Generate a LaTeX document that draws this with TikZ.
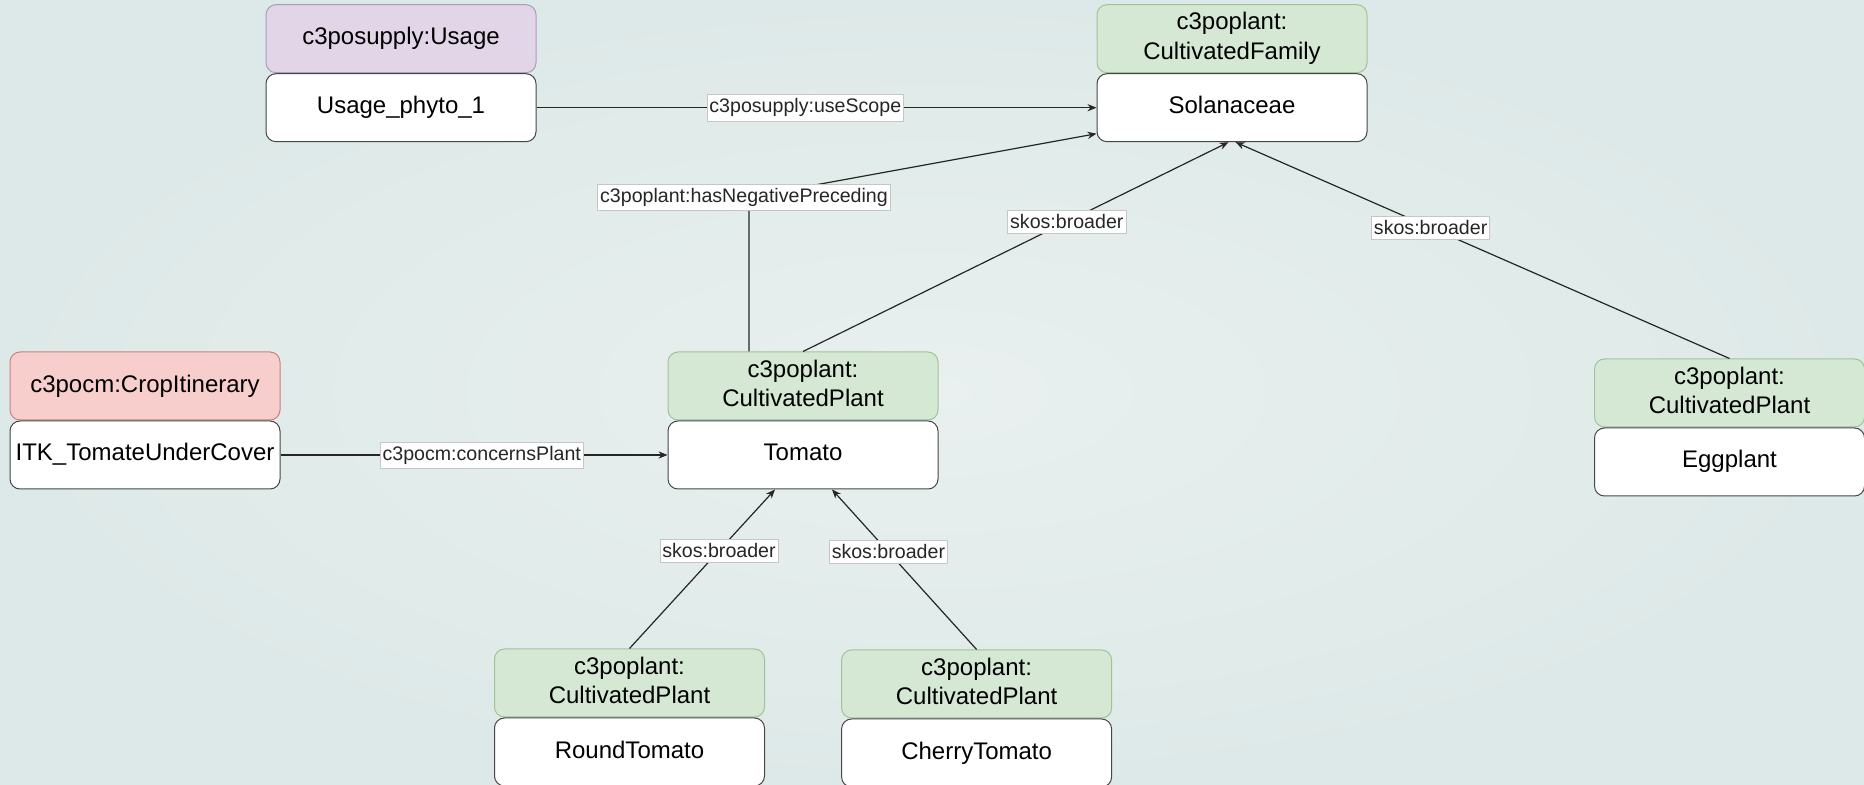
\documentclass[tikz,border=0pt]{standalone}
\usepackage{fontspec}
\setmainfont{Liberation Sans}
\usepackage{xcolor}
\usetikzlibrary{arrows.meta,positioning}
\definecolor{bgin}{RGB}{233,240,239}
\definecolor{bgout}{RGB}{221,233,232}
\definecolor{greenF}{RGB}{213,232,212}
\definecolor{greenD}{RGB}{160,195,150}
\definecolor{redF}{RGB}{248,206,204}
\definecolor{redD}{RGB}{200,130,128}
\definecolor{purpleF}{RGB}{225,213,231}
\definecolor{purpleD}{RGB}{175,155,190}
\definecolor{instD}{RGB}{70,70,70}

\begin{document}
\begin{tikzpicture}[x=0.5pt, y=-0.5pt, node distance=0pt, >={Stealth[length=4.5pt,width=3.6pt]}]
\tikzstyle{box}=[draw, rounded corners=5pt, minimum width=135pt, minimum height=34pt, inner sep=2pt, align=center, line width=0.5pt, font=\fontsize{12}{13.5}\selectfont]
\tikzstyle{plantcls}=[box, fill=greenF, draw=greenD, inner ysep=1pt, execute at end node={\rule[-2.9pt]{0pt}{2.9pt}}]
\tikzstyle{inst}=[box, fill=white, draw=instD, text height=8.8pt, text depth=2.8pt]
\tikzstyle{lbl}=[fill=white, draw=gray!45, line width=0.3pt, inner xsep=1.2pt, inner ysep=2pt, font=\fontsize{9.8}{11}\selectfont]
\tikzstyle{rel}=[->, line width=0.6pt, black!85]
\shade[inner color=bgin, outer color=bgout] (0,0) rectangle (1864,785);
\useasboundingbox (0,0) rectangle (1864,785);
\node[box, fill=purpleF, draw=purpleD] (usageC) at (401,38.7) {c3posupply:Usage};
\node[inst, below=of usageC] (usage) {Usage\_phyto\_1};
\node[plantcls] (famC) at (1232,38.7) {c3poplant:\\[1.2pt]CultivatedFamily};
\node[inst, below=of famC] (sol) {Solanaceae};
\node[box, fill=redF, draw=redD] (cropC) at (145,386) {c3pocm:CropItinerary};
\node[inst, below=of cropC] (itk) {ITK\_TomateUnderCover};
\node[plantcls] (tomC) at (803,386) {c3poplant:\\[1.2pt]CultivatedPlant};
\node[inst, below=of tomC] (tom) {Tomato};
\node[plantcls] (eggC) at (1729.5,393) {c3poplant:\\[1.2pt]CultivatedPlant};
\node[inst, below=of eggC] (egg) {Eggplant};
\node[plantcls] (roundC) at (629.5,683) {c3poplant:\\[1.2pt]CultivatedPlant};
\node[inst, below=of roundC] (round) {RoundTomato};
\node[plantcls] (cherryC) at (976.6,684) {c3poplant:\\[1.2pt]CultivatedPlant};
\node[inst, below=of cherryC] (cherry) {CherryTomato};
\coordinate (negbend) at (749,197);
\draw[rel] (usage) -- node[lbl, pos=0.48]{c3posupply:useScope} (sol);
\draw[rel] ([xshift=-27pt]tomC.north) -- (negbend) node[lbl, xshift=-2.5pt]{c3poplant:hasNegativePreceding} -- ([yshift=-13pt]sol.west);
\draw[rel] (tomC.north) -- node[lbl, pos=0.62]{skos:broader} ([xshift=-1.75pt]sol.south);
\draw[rel] (eggC.north) -- node[lbl, pos=0.605]{skos:broader} ([xshift=1.75pt]sol.south);
\draw[rel] (itk) -- node[lbl, pos=0.52]{c3pocm:concernsPlant} (tom);
\draw[rel] (roundC.north) -- node[lbl, pos=0.615]{skos:broader} ([xshift=-14pt]tom.south);
\draw[rel] (cherryC.north) -- node[lbl, pos=0.61]{skos:broader} ([xshift=14.5pt]tom.south);
\end{tikzpicture}
\end{document}
